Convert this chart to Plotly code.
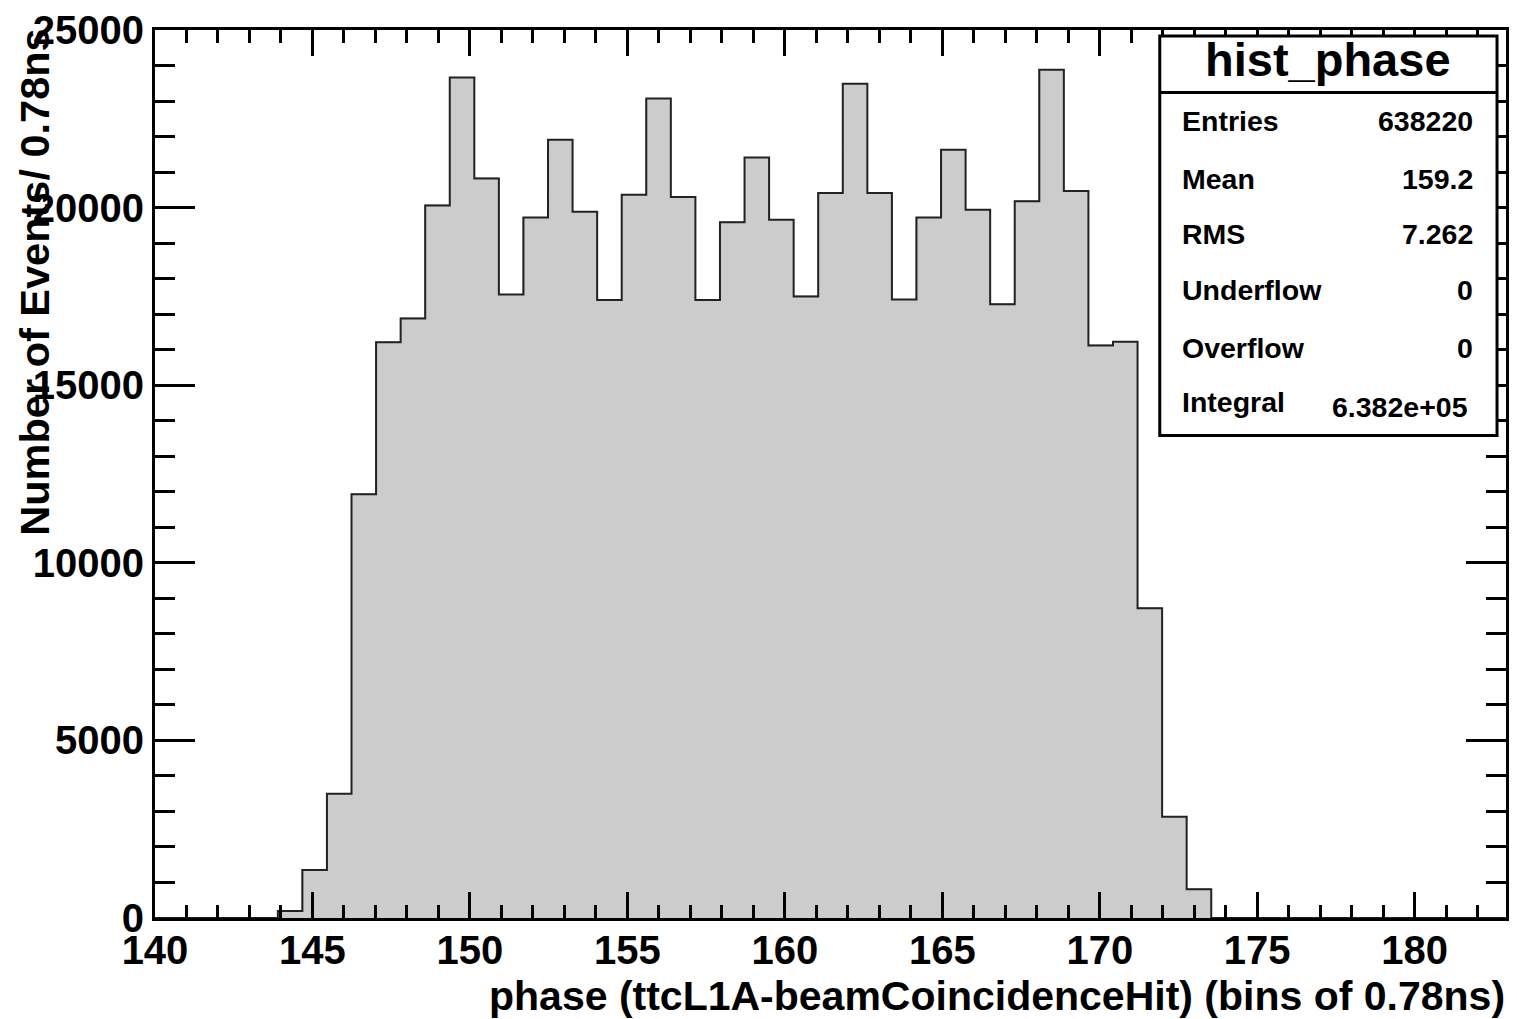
import plotly.graph_objects as go

# ---- data ----
BIN_START = 140.0
BIN_WIDTH = 0.78
N_BINS = 55
counts = [0, 0, 0, 0, 0,
          200, 1350, 3500, 11930, 16210, 16880, 20060, 23660, 20820, 17550,
          19720, 21910, 19880, 17400, 20360, 23070, 20300, 17400, 19590, 21410,
          19660, 17500, 20410, 23490, 20410, 17410, 19720, 21630, 19940, 17280,
          20180, 23880, 20470, 16120, 16220, 8720, 2850, 810,
          0, 0, 0, 0, 0, 0, 0, 0, 0, 0, 0, 0]
x_title = "phase (ttcL1A-beamCoincidenceHit) (bins of 0.78ns)"
y_title = "Number of Events/ 0.78ns"
stats_title = "hist_phase"
stats_labels = ["Entries", "Mean", "RMS", "Underflow", "Overflow", "Integral"]
stats_values = ["638220", "159.2", "7.262", "0", "0", "6.382e+05"]

edges = [BIN_START + BIN_WIDTH * i for i in range(N_BINS + 1)]
centers = [BIN_START + BIN_WIDTH * (i + 0.5) for i in range(N_BINS)]
X_MAX = edges[-1]

# ---- geometry in pixels ----
W, H = 1517, 1019
L, R, T, B = 155, 1509, 25, 918.5
PW, PH = R - L, B - T


def px(x):
    return (x - L) / PW


def py(y):
    return (B - y) / PH


FONT = "Liberation Sans, Arial, Helvetica, sans-serif"

fig = go.Figure()
fig.add_trace(go.Bar(
    x=centers, y=counts, width=BIN_WIDTH,
    marker=dict(color="#cccccc", line=dict(color="#cccccc", width=1)),
    hoverinfo="skip", showlegend=False))
fig.add_trace(go.Scatter(
    x=edges, y=counts + [counts[-1]], mode="lines",
    line=dict(shape="hv", color="#222222", width=2),
    hoverinfo="skip", showlegend=False))

axis_common = dict(
    showgrid=False, zeroline=False, showline=True, linecolor="black", linewidth=3,
    mirror="allticks", ticks="inside", tickcolor="black", tickwidth=2.5,
    tickfont=dict(family=FONT, size=40, color="black", weight="bold"),
)
fig.update_xaxes(**axis_common, range=[BIN_START, X_MAX], tick0=140, dtick=5,
                 ticklen=26, tickformat="d", ticklabelstandoff=-5,
                 minor=dict(dtick=1, tick0=140, ticks="inside", ticklen=13,
                            tickwidth=2.5, tickcolor="black"))
fig.update_yaxes(**axis_common, range=[0, 25000], tick0=0, dtick=5000,
                 ticklen=40, tickformat="d",
                 minor=dict(dtick=1000, tick0=0, ticks="inside", ticklen=20,
                            tickwidth=2.5, tickcolor="black"))

shapes = []
# stats box
bx0, bx1, by0, by1, bdiv = 1162, 1500, 31, 433, 88
shapes.append(dict(type="rect", xref="paper", yref="paper", layer="above",
                   x0=px(bx0), x1=px(bx1), y0=py(by1), y1=py(by0),
                   line=dict(color="black", width=3), fillcolor="white"))
shapes.append(dict(type="line", xref="paper", yref="paper", layer="above",
                   x0=px(bx0), x1=px(bx1), y0=py(bdiv), y1=py(bdiv),
                   line=dict(color="black", width=3)))

annotations = []
annotations.append(dict(text=stats_title, xref="paper", yref="paper",
                        x=px((bx0 + bx1) / 2), y=py(55), xanchor="center", yanchor="middle",
                        showarrow=False,
                        font=dict(family=FONT, size=47, color="black", weight="bold")))
row_y = [117, 175, 230, 287, 345, 399]
val_y = [117, 175, 230, 287, 345, 404]
val_x = [1478, 1478, 1478, 1478, 1478, 1473]
for lab, val, ly, vy, vx in zip(stats_labels, stats_values, row_y, val_y, val_x):
    annotations.append(dict(text=lab, xref="paper", yref="paper", x=px(1182), y=py(ly),
                            xanchor="left", yanchor="middle", showarrow=False,
                            font=dict(family=FONT, size=28.5, color="black", weight="bold")))
    annotations.append(dict(text=val, xref="paper", yref="paper", x=px(vx), y=py(vy),
                            xanchor="right", yanchor="middle", showarrow=False,
                            font=dict(family=FONT, size=28.5, color="black", weight="bold")))
# axis titles
annotations.append(dict(text=x_title, xref="paper", yref="paper", x=px(1510), y=py(997),
                        xanchor="right", yanchor="middle", showarrow=False,
                        font=dict(family=FONT, size=41, color="black", weight="bold")))
annotations.append(dict(text=y_title, xref="paper", yref="paper", x=px(34), y=py(279),
                        xanchor="center", yanchor="middle", textangle=-90, showarrow=False,
                        font=dict(family=FONT, size=41.5, color="black", weight="bold")))

fig.update_layout(
    width=W, height=H,
    margin=dict(l=L, r=W - R, t=T, b=H - B, pad=0),
    paper_bgcolor="white", plot_bgcolor="white",
    bargap=0, showlegend=False,
    shapes=shapes, annotations=annotations,
)

fig.write_html("out.html")
